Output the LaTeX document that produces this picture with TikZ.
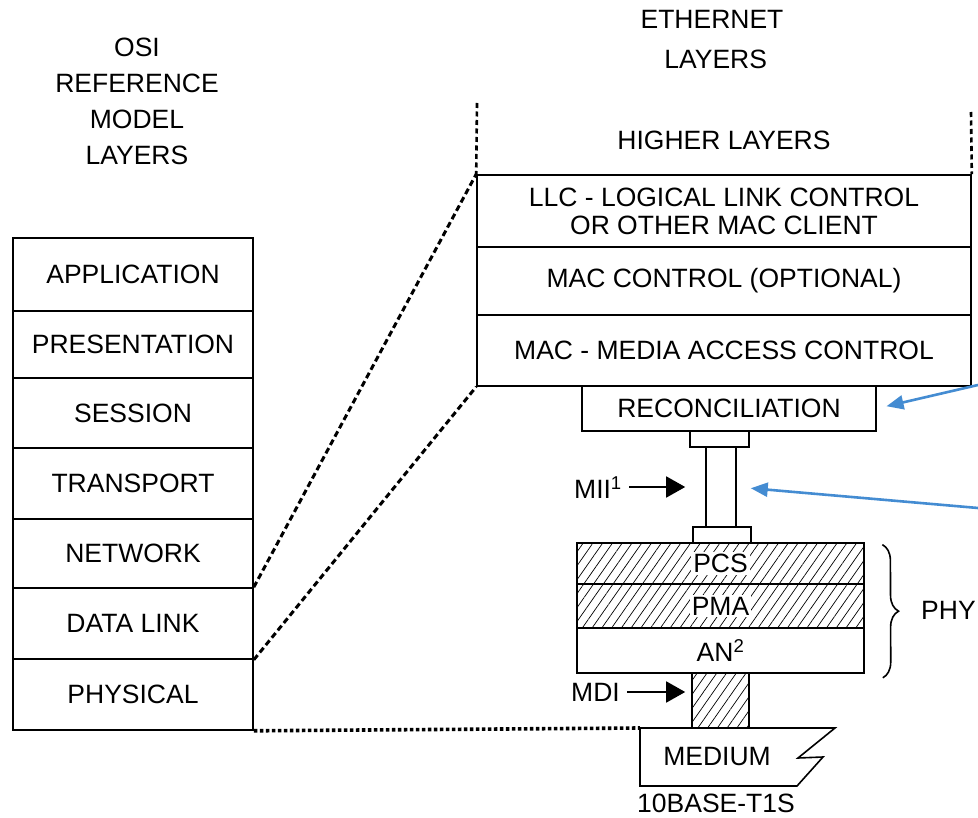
\documentclass[tikz,border=0pt]{standalone}
\usepackage{fontspec}
\setmainfont{Liberation Sans}
\usetikzlibrary{arrows.meta,patterns.meta,decorations.pathreplacing}
\definecolor{bluearrow}{RGB}{68,140,210}
\tikzset{
  txt/.style={font=\fontsize{26.5}{28}\selectfont, inner sep=0pt, align=center},
  layer/.style={txt, draw, line width=1.6pt},
  hatch/.style={pattern={Lines[angle=55,distance=8pt,line width=0.7pt]}},
  dashdiag/.style={line width=3pt, dash pattern=on 6pt off 3.5pt},
  dashside/.style={line width=2.6pt, dash pattern=on 5pt off 3.5pt},
  dotline/.style={line width=3.6pt, dash pattern=on 3.5pt off 2.5pt},
  blkarrow/.style={line width=1.8pt, -{Triangle[length=19pt,width=21pt]}},
  bluearr/.style={bluearrow, line width=2.6pt, -{Triangle[length=17pt,width=14pt]}},
}
\begin{document}
\begin{tikzpicture}[x=1pt,y=-1pt]
\useasboundingbox (0,0) rectangle (978,818);
\fill[white] (0,0) rectangle (978,818);

% titles
\node[txt] (osititle) at (137,101) {OSI\\[8pt]REFERENCE\\[8pt]MODEL\\[8pt]LAYERS};
\node[txt] (ethtitle) at (712,40) {ETHERNET\\[12pt]\ LAYERS};

% OSI stack
\node[layer, minimum width=240pt, minimum height=73pt] (app) at (133,274.5) {APPLICATION};
\node[layer, minimum width=240pt, minimum height=67pt] (pres) at (133,344.5) {PRESENTATION};
\node[layer, minimum width=240pt, minimum height=70pt] (sess) at (133,413) {SESSION};
\node[layer, minimum width=240pt, minimum height=71pt] (trans) at (133,483.5) {TRANSPORT};
\node[layer, minimum width=240pt, minimum height=69pt] (net) at (133,553.5) {NETWORK};
\node[layer, minimum width=240pt, minimum height=71pt] (dl) at (133,623.5) {DATA LINK};
\node[layer, minimum width=240pt, minimum height=71pt] (phys) at (133,694.5) {PHYSICAL};

% Ethernet stack
\node[txt] (hl) at (724,140) {HIGHER LAYERS};
\node[layer, minimum width=494pt, minimum height=72pt] (llc) at (724,211) {LLC - LOGICAL LINK CONTROL\\OR OTHER MAC CLIENT};
\node[layer, minimum width=494pt, minimum height=68pt] (macctl) at (724,281) {MAC CONTROL (OPTIONAL)};
\node[layer, minimum width=494pt, minimum height=71pt] (mac) at (724,350.5) {MAC - MEDIA ACCESS CONTROL};
\node[layer, minimum width=294pt, minimum height=45pt] (rec) at (729,408.5) {RECONCILIATION};

\coordinate (hlL) at (477,103);
\coordinate (hlR) at (971,112);
\draw[dashside] (hlL) -- (llc.north west);
\draw[dashside] (hlR) -- (llc.north east);

% OSI to Ethernet
\draw[dashdiag] (dl.north east) -- (llc.north west);
\draw[dashdiag] (dl.south east) -- (mac.south west);

% MII
\node[layer, minimum width=59pt, minimum height=16pt] (capT) at (719.5,439) {};
\node[layer, minimum width=30pt, minimum height=80pt] (shaft) at (721,487) {};
\node[layer, minimum width=58pt, minimum height=16pt] (capB) at (722,535) {};
\node[txt, anchor=east] (miit) at (622,488) {MII\textsuperscript{1}};
\draw[blkarrow, shorten <=7pt, shorten >=20pt] (shaft.west -| miit.east) -- (shaft.west);

% PHY
\node[layer, hatch, minimum width=287pt, minimum height=41pt] (pcs) at (720.5,563.5) {};
\node[layer, hatch, minimum width=287pt, minimum height=44pt] (pma) at (720.5,606) {};
\node[layer, minimum width=287pt, minimum height=45pt] (an) at (720.5,650.5) {AN\textsuperscript{2}};
\node[txt, fill=white, inner sep=2pt] (pcst) at (pcs) {PCS};
\node[txt, fill=white, inner sep=2pt] (pmat) at (pma) {PMA};
\draw[decorate, decoration={brace, amplitude=16pt}, line width=1.6pt]
  ([xshift=18pt,yshift=-2pt]pcs.north east) -- ([xshift=18pt,yshift=-4pt]an.south east);
\node[txt, anchor=west] (phy) at (921,610) {PHY};

% MDI
\node[layer, hatch, minimum width=57pt, minimum height=55pt] (mdi) at (720.5,700.5) {};
\node[txt, anchor=east] (mdit) at (620,692) {MDI};
\draw[blkarrow, shorten <=7pt, shorten >=6pt] (mdit.east) -- (mdit.east -| mdi.west);

% Medium
\coordinate (m1) at (640,728);
\coordinate (m2) at (835,728);
\coordinate (m3) at (798,758);
\coordinate (m4) at (823,757);
\coordinate (m5) at (797,786);
\coordinate (m6) at (640,786);
\draw[line width=1.6pt, line join=miter] (m1) -- (m2) -- (m3) -- (m4) -- (m5) -- (m6) -- cycle;
\node[txt] (medt) at (717,757) {MEDIUM};
\node[txt] (base) at (716,803) {10BASE-T1S};

\draw[dotline] (phys.south east) -- (m1);

% blue arrows
\coordinate (b1) at (978,385);
\coordinate (b2) at (978,508);
\draw[bluearr, shorten >=10pt] (b1) -- (rec.east);
\draw[bluearr, shorten >=14pt] (b2) -- (shaft.east);
\end{tikzpicture}
\end{document}
